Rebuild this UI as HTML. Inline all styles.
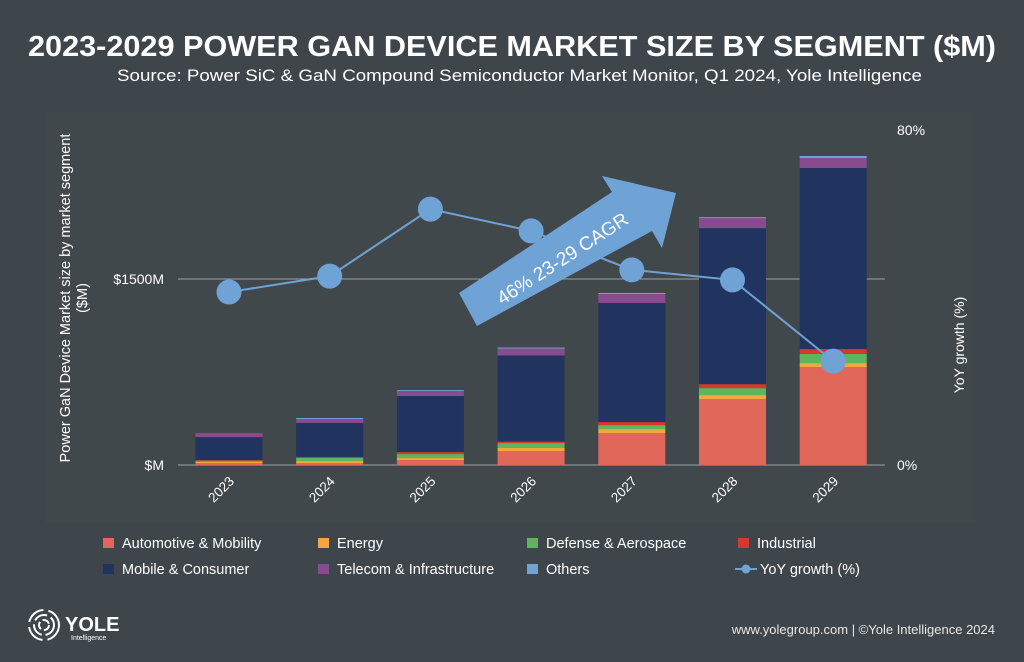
<!DOCTYPE html>
<html><head><meta charset="utf-8"><style>
body{margin:0;background:#3e454b;}
svg{display:block;font-family:"Liberation Sans",sans-serif;}
</style></head><body>
<svg id="c" width="1024" height="662" viewBox="0 0 1024 662">
<rect x="0" y="0" width="1024" height="662" fill="#3e454b"/>
<rect x="45" y="112" width="930" height="410" fill="#41484b"/>
<text x="28" y="56" textLength="968" lengthAdjust="spacingAndGlyphs" fill="#fff" font-size="29" font-weight="bold">2023-2029 POWER GAN DEVICE MARKET SIZE BY SEGMENT ($M)</text>
<text x="117" y="81" textLength="805" lengthAdjust="spacingAndGlyphs" fill="#fff" font-size="16.5">Source: Power SiC &amp; GaN Compound Semiconductor Market Monitor, Q1 2024, Yole Intelligence</text>
<text transform="translate(70,298) rotate(-90)" text-anchor="middle" fill="#fff" font-size="14.5"><tspan x="0" y="0">Power GaN Device Market size by market segment</tspan><tspan x="0" y="17">($M)</tspan></text>
<text transform="translate(964,345) rotate(-90)" text-anchor="middle" fill="#fff" font-size="14">YoY growth (%)</text>
<g id="grid"></g><g id="bars"></g><g id="line"></g>
<g>
<polygon points="459,293 612,192 602,176 676,193 662,248 652,231 477,326" fill="#6fa3d6"/>
<text transform="translate(566,264) rotate(-33)" text-anchor="middle" fill="#fff" font-size="19">46% 23-29 CAGR</text>
</g>
<g id="legend"></g>
<g>
<circle cx="44" cy="625" r="15" fill="none" stroke="#fff" stroke-width="2" stroke-dasharray="20 5"/>
<circle cx="44" cy="625" r="10" fill="none" stroke="#fff" stroke-width="2" stroke-dasharray="14 4"/>
<circle cx="44" cy="625" r="5" fill="none" stroke="#fff" stroke-width="2" stroke-dasharray="8 3"/>
<text x="65" y="631" fill="#fff" font-size="20" font-weight="bold">YOLE</text>
<text x="71" y="640" fill="#fff" font-size="7">Intelligence</text>
</g>
<text x="995" y="634" text-anchor="end" fill="#e8e8e8" font-size="13">www.yolegroup.com | ©Yole Intelligence 2024</text>
</svg>
<script>
const years=["2023","2024","2025","2026","2027","2028","2029"];
const automotive=[15,16,40,113,258,532,790];
const energy=[10,16,16,24,32,32,32];
const defense=[10,25,32,40,32,56,73];
const industrial=[5,8,16,12,24,32,40];
const mobile=[185,274,452,694,960,1258,1460];
const telecom=[25,32,40,56,73,81,81];
const others=[3,8,8,8,8,8,16];
const yoy=[41.3,45.1,61.1,55.9,46.6,44.2,24.8];
const leftTicks=[0,1500];
const leftTickLabels=["$M","$1500M"];
const rightTicks=[0,80];
const rightTickLabels=["0%","80%"];
const NS="http://www.w3.org/2000/svg";
const x0=178,x1=885,y0=465,step=100.7;
const xc=i=>229+i*step;
const yL=v=>y0-v*0.124;
const yR=v=>y0-v*(335/80);
function mk(t,a,p){const e=document.createElementNS(NS,t);for(const k in a)e.setAttribute(k,a[k]);p.appendChild(e);return e;}
const grid=document.getElementById('grid');
leftTicks.forEach((v,i)=>{
 const l=mk('line',{x1:x0,x2:x1,y1:yL(v),y2:yL(v),stroke:'#9aa0a3','stroke-width':1},grid);
 
 
 const t=mk('text',{x:164,y:yL(v)+5,'text-anchor':'end',fill:'#fff','font-size':14},grid);
 t.textContent=leftTickLabels[i];
 
 
});
rightTicks.forEach((v,i)=>{
 const t=mk('text',{x:897,y:yR(v)+5,fill:'#fff','font-size':14},grid);
 t.textContent=rightTickLabels[i];
 
 
});
const series=[[automotive,'#e0675a','Automotive & Mobility'],[energy,'#f1a842','Energy'],[defense,'#5fb45e','Defense & Aerospace'],[industrial,'#d8372b','Industrial'],[mobile,'#21335f','Mobile & Consumer'],[telecom,'#874b8e','Telecom & Infrastructure'],[others,'#6fa3d6','Others']];
const bars=document.getElementById('bars');
years.forEach((yr,i)=>{
 let acc=0;
 series.forEach(s=>{
  const v=s[0][i];
  const r=mk('rect',{x:xc(i)-33.5,width:67,y:yL(acc+v),height:yL(acc)-yL(acc+v),fill:s[1]},bars);
  
  
  acc+=v;
 });
 const t=mk('text',{transform:`translate(${xc(i)+6},${482}) rotate(-45)`,'text-anchor':'end',fill:'#fff','font-size':13.5},bars);
 t.textContent=yr;
 
 
});
const lg=document.getElementById('line');
const p=mk('polyline',{points:yoy.map((v,i)=>xc(i)+','+yR(v)).join(' '),fill:'none',stroke:'#6fa3d6','stroke-width':2},lg);


yoy.forEach((v,i)=>{
 const c=mk('circle',{cx:xc(i),cy:yR(v),r:12.5,fill:'#6fa3d6'},lg);
 
 
});
const leg=document.getElementById('legend');
const lx=[103,318,527,738];
series.forEach((s,i)=>{
 const x=lx[i%4],y=i<4?543:569;
 const r=mk('rect',{x:x,y:y-5,width:11,height:10,fill:s[1]},leg);
 
 
 const t=mk('text',{x:x+19,y:y+5,fill:'#fff','font-size':14.5},leg);
 t.textContent=s[2];
 
 
});
const ll=mk('line',{x1:735,x2:757,y1:569,y2:569,stroke:'#6fa3d6','stroke-width':2},leg);


const lc=mk('circle',{cx:746,cy:569,r:4.5,fill:'#6fa3d6'},leg);


const lt=mk('text',{x:760,y:574,fill:'#fff','font-size':14.5},leg);
lt.textContent='YoY growth (%)';


</script>
</body></html>
